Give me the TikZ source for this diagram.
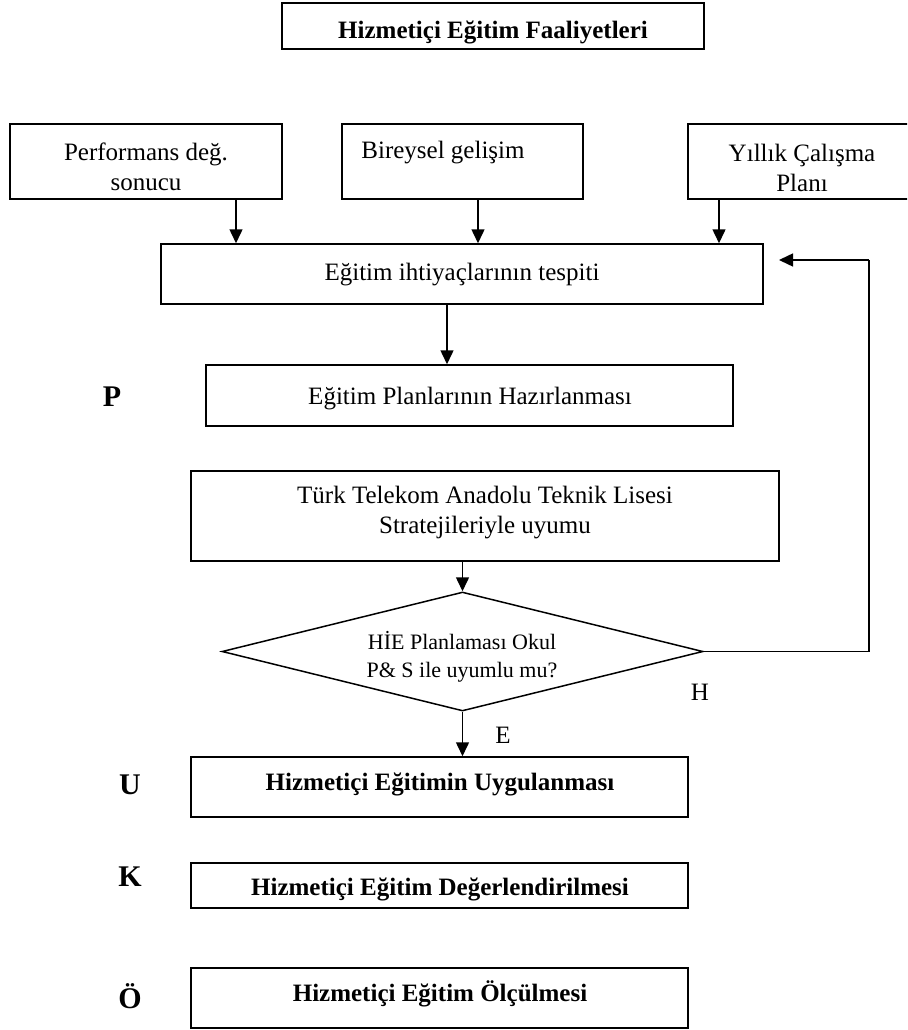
\documentclass[tikz,border=0pt]{standalone}
\usepackage{fontspec}
\setmainfont{Liberation Serif}
\usetikzlibrary{shapes.geometric,arrows.meta}
\begin{document}
\begin{tikzpicture}[x=1pt,y=-1pt,
  box/.style={draw, line width=1.5pt, rectangle, inner sep=0pt},
  txt/.style={font=\fontsize{25}{30}\selectfont, align=center, inner sep=0pt},
  one/.style={text height=17pt, text depth=6pt},
  btxt/.style={txt, one, font=\fontsize{25}{30}\selectfont\bfseries},
  phase/.style={font=\fontsize{30}{36}\selectfont\bfseries, inner sep=0pt, text height=20pt, text depth=0pt},
  arr/.style={line width=1.5pt, -{Triangle[length=14pt,width=13pt]}},
  line/.style={line width=1.5pt}]
\useasboundingbox (0,0) rectangle (907,1030);
\clip (0,0) rectangle (907,1030);

% title
\node[box, minimum width=422pt, minimum height=46pt] (title) at (493,26) {};
\node[btxt] (titletxt) at (493,33) {Hizmetiçi Eğitim Faaliyetleri};

% sources of training needs
\node[box, minimum width=272pt, minimum height=75pt] (perf) at (146,161.5) {};
\node[txt] (perftxt) at (146,167) {Performans değ.\\sonucu};
\node[box, minimum width=241pt, minimum height=75pt] (bir) at (462.5,161.5) {};
\node[txt, one] (birtxt) at (443,153) {Bireysel gelişim};
\node[box, minimum width=228pt, minimum height=75pt] (yil) at (802,161.5) {};
\node[txt] (yiltxt) at (802,167.5) {Yıllık Çalışma\\Planı};

% needs analysis and planning
\node[box, minimum width=602pt, minimum height=60pt] (iht) at (462,274) {};
\node[txt, one] (ihttxt) at (462,275) {Eğitim ihtiyaçlarının tespiti};
\node[box, minimum width=527pt, minimum height=61pt] (plan) at (469.5,395.5) {};
\node[txt, one] (plantxt) at (470,399) {Eğitim Planlarının Hazırlanması};
\node[phase] (P) at (112,396) {P};

\node[box, minimum width=588pt, minimum height=90pt] (turk) at (485,516) {};
\node[txt] (turktxt) at (485,513) {Türk Telekom Anadolu Teknik Lisesi\\Stratejileriyle uyumu};

% decision
\node[diamond, draw, line width=1.5pt, inner sep=0pt, aspect=4.04,
      minimum width=481pt, minimum height=119pt] (dia) at (462.5,651.5) {};
\node[align=center, inner sep=0pt, font=\fontsize{22}{28}\selectfont] (diatxt) at (462,656.5)
  {HİE Planlaması Okul\\P\& S ile uyumlu mu?};
\node[txt, one] (E) at (503,738) {E};
\node[txt, one] (H) at (700,695) {H};

% implementation, evaluation, measurement
\node[box, minimum width=497pt, minimum height=60pt] (u) at (439.5,787) {};
\node[btxt] (utxt) at (440,785) {Hizmetiçi Eğitimin Uygulanması};
\node[phase] (U) at (130,784) {U};
\node[box, minimum width=497pt, minimum height=45pt] (k) at (439.5,885.5) {};
\node[btxt] (ktxt) at (440,890) {Hizmetiçi Eğitim Değerlendirilmesi};
\node[phase] (K) at (130,876) {K};
\node[box, minimum width=497pt, minimum height=60pt] (o) at (439.5,998) {};
\node[btxt] (otxt) at (440,996) {Hizmetiçi Eğitim Ölçülmesi};
\node[phase] (O) at (130,998) {Ö};

% connectors
\coordinate (xa) at (236,0);
\coordinate (xb) at (478,0);
\coordinate (xc) at (719,0);
\coordinate (xd) at (447,0);
\draw[arr] (xa |- perf.south) -- (xa |- iht.north);
\draw[arr] (xb |- bir.south) -- (xb |- iht.north);
\draw[arr] (xc |- yil.south) -- (xc |- iht.north);
\draw[arr] (xd |- iht.south) -- (xd |- plan.north);
\draw[arr] (dia.north |- turk.south) -- (dia.north);
\draw[arr] (dia.south) -- (dia.south |- u.north);

% feedback loop when planning does not fit
\coordinate (fbcorner) at (869,260);
\coordinate (fbend) at (779,260);
\draw[line] (dia.east) -| (fbcorner);
\draw[arr] (fbcorner) -- (fbend);
\end{tikzpicture}
\end{document}
